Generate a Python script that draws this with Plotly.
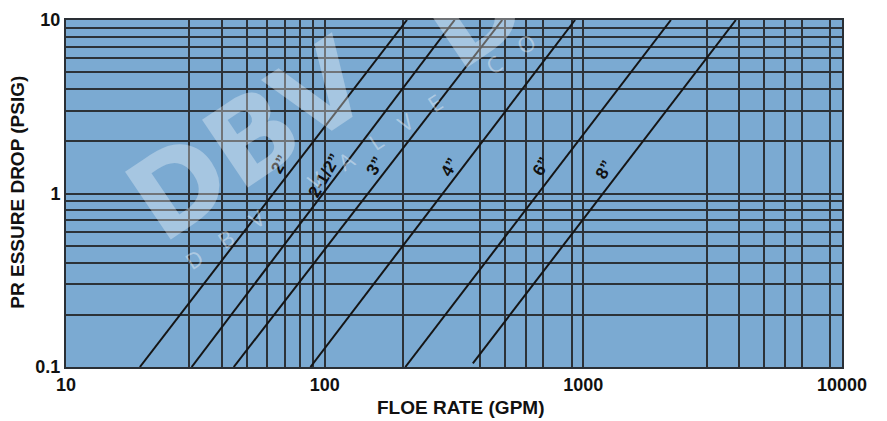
import numpy as np
import plotly.graph_objects as go

# Valve sizes and their pressure-drop lines (flow in GPM, pressure drop in PSIG)
sizes = ["2”", "2-1/2”", "3”", "4”", "6”", "8”"]
flow_start = [19.3, 30.6, 44.5, 88.1, 205, 374]
dp_start = [0.1, 0.1, 0.1, 0.1, 0.1, 0.105]
flow_end = [208, 318, 486, 929, 2181, 3887]
dp_end = [10, 10, 10, 10, 10, 10]

# Where each size label sits (flow, pressure drop)
label_flow = [67, 100, 156, 304, 687, 1205]
label_dp = [1.47, 1.27, 1.44, 1.41, 1.44, 1.38]

# Grid positions on each axis
x_grid = [10, 30, 40, 50, 60, 70, 80, 90, 100, 200, 400, 500, 600, 700, 900,
          1000, 3000, 4000, 5000, 6000, 7000, 9000, 10000]
x_labels = {10: "10", 100: "100", 1000: "1000", 10000: "10000"}
y_grid = [0.1, 0.2, 0.3, 0.4, 0.5, 0.6, 0.7, 0.8, 0.9, 1,
          2, 3, 4, 5, 6, 7, 8, 9, 10]
y_labels = {0.1: "0.1", 1: "1", 10: "10"}

FONT = "Liberation Sans, Arial, sans-serif"
GRID = "#2c3238"

fig = go.Figure()
for name, x0, y0, x1, y1 in zip(sizes, flow_start, dp_start, flow_end, dp_end):
    fig.add_trace(go.Scatter(x=[x0, x1], y=[y0, y1], mode="lines", name=name,
                             line=dict(color="#151515", width=2),
                             showlegend=False, hoverinfo="skip"))

annotations = []
for name, fx, fy in zip(sizes, label_flow, label_dp):
    annotations.append(dict(x=np.log10(fx), y=np.log10(fy), xref="x", yref="y",
                            xanchor="center", yanchor="middle",
                            text=name, showarrow=False, textangle=-60,
                            font=dict(family=FONT, size=17, color="#111",
                                      weight="bold")))

# Watermark
wm_font = dict(family="DejaVu Sans, sans-serif", size=112,
               color="rgba(255,255,255,0.33)", weight="bold")
annotations.append(dict(x=0.235, y=0.655, xref="paper", yref="paper",
                        xanchor="center", yanchor="middle",
                        text="DBV", showarrow=False, textangle=-34, font=wm_font))
annotations.append(dict(x=0.617, y=1.15, xref="paper", yref="paper",
                        xanchor="center", yanchor="middle",
                        text="DBV", showarrow=False, textangle=-34, font=wm_font))
gap = "\u00a0" * 4
wgap = "\u00a0" * 10
sub = wgap.join(gap.join(list(w)) for w in ["DBV", "VALVE", "CO"])
annotations.append(dict(x=0.379, y=0.622, xref="paper", yref="paper",
                        xanchor="center", yanchor="middle",
                        text=sub, showarrow=False, textangle=-33,
                        font=dict(family="Open Sans, sans-serif", size=22,
                                  color="rgba(255,255,255,0.4)")))

# Axis titles
annotations.append(dict(x=0.509, y=-0.118, xref="paper", yref="paper",
                        xanchor="center", yanchor="middle",
                        text="FLOE RATE (GPM)", showarrow=False,
                        font=dict(family=FONT, size=19, color="#111", weight="bold")))
annotations.append(dict(x=-0.062, y=0.505, xref="paper", yref="paper",
                        xanchor="center", yanchor="middle",
                        text="PR ESSURE DROP (PSIG)", showarrow=False, textangle=-90,
                        font=dict(family=FONT, size=19, color="#111", weight="bold")))

fig.update_layout(
    width=887, height=421,
    margin=dict(l=66, r=45, t=10, b=54),
    paper_bgcolor="white",
    plot_bgcolor="#7baad2",
    annotations=annotations,
    showlegend=False,
)
fig.update_xaxes(type="log", range=[1, 4],
                 tickvals=x_grid, ticktext=[x_labels.get(v, "") for v in x_grid],
                 showgrid=True, gridcolor=GRID, gridwidth=1.5,
                 showline=True, linecolor="#2a2f35", linewidth=2, mirror=True,
                 ticks="", zeroline=False,
                 tickfont=dict(family=FONT, size=18, color="#111", weight="bold"))
fig.update_yaxes(type="log", range=[-1, 1],
                 tickvals=y_grid, ticktext=[y_labels.get(v, "") for v in y_grid],
                 showgrid=True, gridcolor=GRID, gridwidth=1.5,
                 showline=True, linecolor="#2a2f35", linewidth=2, mirror=True,
                 ticks="", zeroline=False,
                 tickfont=dict(family=FONT, size=18, color="#111", weight="bold"))

fig.write_html("out.html")
